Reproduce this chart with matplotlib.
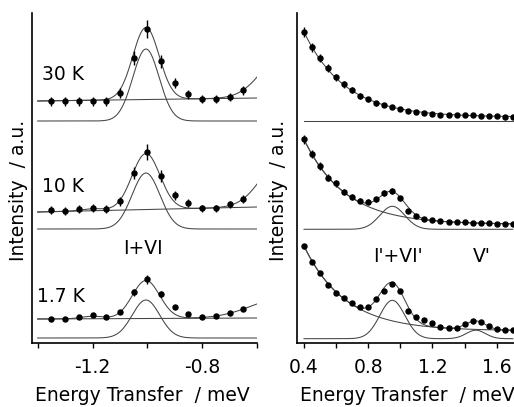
import numpy as np
import matplotlib
matplotlib.use("Agg")
import matplotlib.pyplot as plt

plt.rcParams['font.family'] = ['DejaVu Sans']
plt.rcParams['axes.unicode_minus'] = False

# ---- left panel: I+VI line at three temperatures ----
e_left = [-1.35, -1.30, -1.25, -1.20, -1.15, -1.10, -1.05, -1.00,
          -0.95, -0.90, -0.85, -0.80, -0.75, -0.70, -0.65]
temps = ["30 K", "10 K", "1.7 K"]
i_30k = [242, 242, 242, 242, 242, 250, 285, 314, 282, 260, 249, 244, 244, 246, 253]
i_10k = [133, 132, 134, 135, 134, 142, 170, 191, 167, 148, 140, 135, 135, 139, 144]
i_1k7 = [24, 24, 26, 28, 26, 31, 51, 64, 49, 36, 29, 26, 27, 30, 34]
err_30k = [4.5, 4.5, 4.5, 4.5, 4.5, 5, 7, 9, 6.5, 5, 4.5, 4, 4, 4, 4.5]
err_10k = [4, 4, 4, 4, 4, 4.5, 6, 8, 6, 4.5, 4, 3.5, 3.5, 3.5, 4]
err_1k7 = [2, 2, 2, 2, 2, 2, 3.5, 4.5, 3, 2, 2, 2, 2, 2, 2]

# fit parameters (left)
bg_start = [242, 131, 24]
bg_end = [245, 136, 25]
peak_amp = [72, 56, 38]
peak_sig = [0.048, 0.051, 0.050]
peak_base = [222, 114, 5]
bump_amp = [0, 2, 2.5]
tail_amp = [44, 50, 20]
tail_sig = [0.082, 0.080, 0.119]

# ---- right panel: inelastic side ----
e_right = [0.40, 0.45, 0.50, 0.55, 0.60, 0.65, 0.70, 0.75, 0.80, 0.85,
           0.90, 0.95, 1.00, 1.05, 1.10, 1.15, 1.20, 1.25, 1.30, 1.35,
           1.40, 1.45, 1.50, 1.55, 1.60, 1.65, 1.70]
r_top = [311, 296, 285, 275, 266, 259, 253, 247, 244, 240, 238, 236, 234, 232,
         231, 230, 229, 228, 228, 228, 228, 228, 227, 227, 227, 226, 226]
r_mid = [203.7, 188.7, 177, 165.3, 159.7, 151.3, 145.7, 142.3, 141.3, 143.7,
         149.7, 151.7, 144.7, 132.3, 127, 124.3, 122.7, 122, 121.3, 121,
         120.7, 120.3, 120, 119.7, 119.3, 119, 118.7]
r_bot = [97, 81.3, 70.3, 58, 50.3, 44.7, 40.3, 36.3, 36.3, 44, 52.3, 59, 52.3,
         32.3, 25.7, 23, 19.7, 15.7, 14.7, 14.7, 19, 22.3, 21, 17, 14, 13, 12.7]
rerr_top = [5, 4.5, 4, 4, 3.5, 3.5, 3, 3, 2.5, 2.5, 2, 2, 2, 2] + [1.5] * 13
rerr_mid = [4.5, 4, 4, 3.5, 3.5, 3, 3, 2.5, 2.5, 2.5, 3, 3, 2.5, 2] + [1.5] * 13
rerr_bot = [2.5, 2, 2, 2] + [1.5] * 23

# fit parameters (right)
r_base = [222, 113.7, 4.3]
qe_const = [4, 5, 8]
qe_amp = [85, 85, 84.7]
qe_len = 0.255
p1_amp = [0, 23, 38.4]
p2_amp = [0, 0, 8.5]


def gauss(x, a, c, s):
    return a * np.exp(-0.5 * ((x - c) / s) ** 2)


fig = plt.figure(figsize=(5.14, 4.07), dpi=100)
axl = fig.add_axes([32 / 514, 64 / 407, 225 / 514, 330 / 407])
axr = fig.add_axes([297 / 514, 64 / 407, 217 / 514, 330 / 407])

fit_kw = dict(color="#444444", lw=0.75)
pt_kw = dict(fmt="o", color="black", ms=3.6, elinewidth=1.0, capsize=0)

# left
xl = np.linspace(-1.4, -0.6, 400)
for k, (yy, ee) in enumerate(zip([i_30k, i_10k, i_1k7], [err_30k, err_10k, err_1k7])):
    bg = bg_start[k] + (bg_end[k] - bg_start[k]) * (xl + 1.4) / 0.8
    g = gauss(xl, peak_amp[k], -1.005, peak_sig[k])
    total = bg + g + gauss(xl, bump_amp[k], -1.2, 0.04) + gauss(xl, tail_amp[k], -0.5, tail_sig[k])
    axl.plot(xl, bg, **fit_kw)
    axl.plot(xl, peak_base[k] + g, **fit_kw)
    axl.plot(xl, total, **fit_kw)
    axl.errorbar(e_left, yy, yerr=ee, **pt_kw)

axl.text(-1.384, 268, temps[0], fontsize=13.5, va="center")
axl.text(-1.384, 156, temps[1], fontsize=13.5, va="center")
axl.text(-1.402, 46, temps[2], fontsize=13.5, va="center")
axl.text(-1.017, 95, "I+VI", fontsize=13.5, ha="center", va="center")

# right
xr = np.linspace(0.4, 1.7, 400)
for k, (yy, ee) in enumerate(zip([r_top, r_mid, r_bot], [rerr_top, rerr_mid, rerr_bot])):
    qe = r_base[k] + qe_const[k] + qe_amp[k] * np.exp(-(xr - 0.4) / qe_len)
    g1 = gauss(xr, p1_amp[k], 0.95, 0.078)
    g2 = gauss(xr, p2_amp[k], 1.47, 0.06)
    axr.plot(xr, np.full_like(xr, r_base[k]) + g1 + g2, **fit_kw)
    if k > 0:
        axr.plot(xr, qe, **fit_kw)
    axr.plot(xr, qe + g1 + g2, **fit_kw)
    axr.errorbar(e_right, yy, yerr=ee, **pt_kw)

axr.text(0.985, 86, "I'+VI'", fontsize=13.5, ha="center", va="center")
axr.text(1.508, 86, "V'", fontsize=13.5, ha="center", va="center")

for ax in (axl, axr):
    ax.set_ylim(0, 330)
    ax.set_yticks([])
    ax.spines["top"].set_visible(False)
    ax.spines["right"].set_visible(False)
    ax.spines["left"].set_linewidth(1.2)
    ax.spines["bottom"].set_linewidth(1.2)
    ax.tick_params(axis="x", direction="out", length=3.5, width=1, pad=7.5, labelsize=13.5)

axl.set_xlim(-1.4207, -0.6025)
axl.set_xticks([-1.4, -1.2, -1.0, -0.8, -0.6])
axl.set_xticklabels(["", "-1.2", "", "-0.8", ""])
axr.set_xlim(0.3564, 1.7077)
axr.set_xticks([0.4, 0.6, 0.8, 1.0, 1.2, 1.4, 1.6])
axr.set_xticklabels(["0.4", "", "0.8", "", "1.2", "", "1.6"])

fig.text(142 / 514, 6 / 407, "Energy Transfer  / meV", fontsize=13.5, ha="center", va="baseline")
fig.text(407 / 514, 6 / 407, "Energy Transfer  / meV", fontsize=13.5, ha="center", va="baseline")
fig.text(19 / 514, 1 - 190 / 407, "Intensity  / a.u.", fontsize=13.5, rotation=90, ha="center", va="center")
fig.text(279 / 514, 1 - 190 / 407, "Intensity  / a.u.", fontsize=13.5, rotation=90, ha="center", va="center")

fig.savefig("out.png", dpi=100)
